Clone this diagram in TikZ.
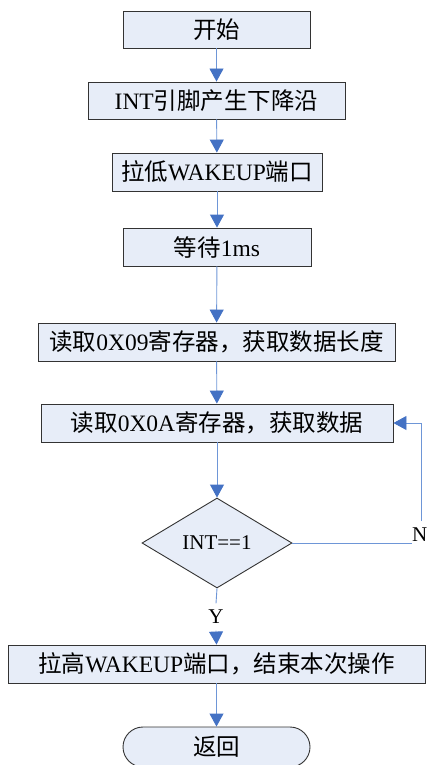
\documentclass[tikz,border=0pt]{standalone}
\usepackage{fontspec}
\setmainfont{Liberation Serif}
\newfontfamily\cjk{Noto Sans CJK SC}
\usepackage{tikz}
\usetikzlibrary{arrows.meta,shapes.geometric,positioning}
\definecolor{boxfill}{RGB}{231,237,248}
\definecolor{flowline}{RGB}{110,150,215}
\definecolor{flowtip}{RGB}{68,114,196}
\tikzset{
  procbox/.style={draw=black!80, fill=boxfill, line width=0.9pt,
    minimum height=37pt, inner sep=0pt, font=\fontsize{23.5}{26}\selectfont},
  endbox/.style={procbox, rounded corners=20pt},
  decide/.style={diamond, aspect=1.67, draw=black!80, fill=boxfill, line width=0.9pt,
    minimum width=150pt, minimum height=90pt, inner sep=0pt, font=\fontsize{21}{24}\selectfont},
  yn/.style={inner sep=0pt, minimum height=27pt, font=\fontsize{21}{24}\selectfont},
  flow/.style={draw=flowline, line width=0.9pt},
  flowarrow/.style={flow, -{Triangle[length=13pt,width=14pt,color=flowtip]}},
}

\begin{document}
\begin{tikzpicture}[x=1pt,y=-1pt]
    \useasboundingbox (0,0) rectangle (426,765);

    % Steps of the flow
    \node[procbox, minimum width=187pt] (start) at (216.5,29.5) {\cjk 开始};
    \node[procbox, minimum width=257pt] (intfall) at (216.5,100.5) {INT{\cjk 引脚产生下降沿}};
    \node[procbox, minimum width=210pt, minimum height=38pt] (wakelow) at (217,172) {{\cjk 拉低}WAKEUP{\cjk 端口}};
    \node[procbox, minimum width=188pt, minimum height=38pt] (wait) at (217,247) {{\cjk 等待}1ms};
    \node[procbox, minimum width=357pt, minimum height=38pt] (readlen) at (216.5,342) {{\cjk 读取}0X09{\cjk 寄存器，获取数据长度}};
    \node[procbox, minimum width=352pt, minimum height=38pt] (readdat) at (217,423) {{\cjk 读取}0X0A{\cjk 寄存器，获取数据}};
    \node[decide] (check) at (217,543) {INT==1};
    \node[yn] (yes) at (216,617) {Y};
    \node[yn, anchor=west] (no) at (412,535) {N};
    \node[procbox, minimum width=417pt, minimum height=38pt] (wakehigh) at (216.5,664) {{\cjk 拉高}WAKEUP{\cjk 端口，结束本次操作}};
    \node[endbox, minimum width=187pt, minimum height=40pt] (back) at (216.5,747) {\cjk 返回};

    % Corners of the loop back
    \coordinate (noend) at (412,543);
    \coordinate (noup) at (421,521);

    % Connectors
    \draw[flowarrow] (start) -- (intfall);
    \draw[flowarrow] (intfall) -- (wakelow);
    \draw[flowarrow] (wakelow) -- (wait);
    \draw[flowarrow] (wait) -- (readlen);
    \draw[flowarrow] (readlen) -- (readdat);
    \draw[flowarrow] (readdat) -- (check);
    \draw[flow] (check.east) -- (noend);
    \draw[flowarrow] (noup) |- (readdat.east);
    \draw[flow] (check.south) -- (yes.north);
    \draw[flowarrow] (yes.south) -- (wakehigh.north);
    \draw[flowarrow] (wakehigh) -- (back);
\end{tikzpicture}
\end{document}
